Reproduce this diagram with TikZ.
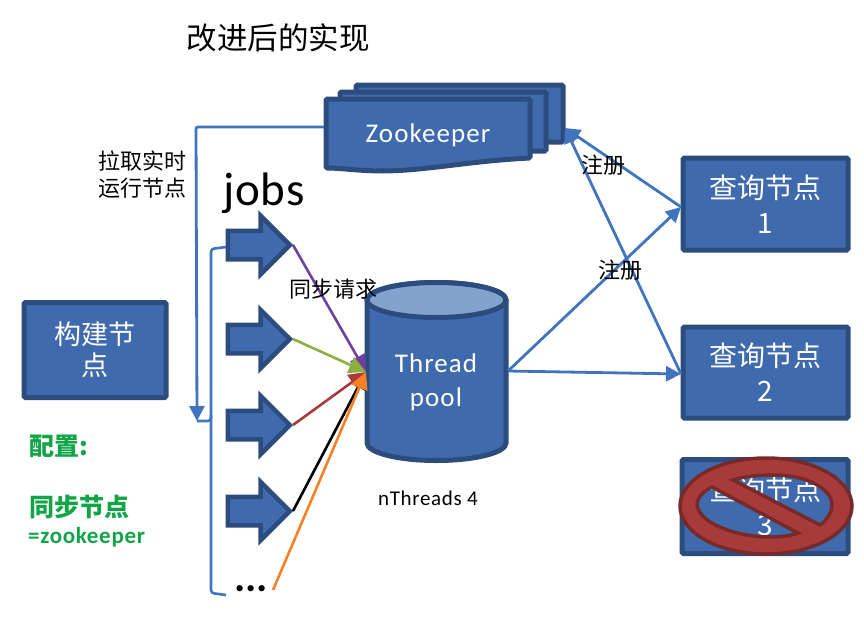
\documentclass[tikz,border=0pt]{standalone}
\usepackage{fontspec}
\setmainfont{Carlito}
\newfontfamily\cjk{Noto Sans CJK SC}
\usetikzlibrary{shapes.geometric,shapes.arrows,arrows.meta}
\definecolor{bfill}{HTML}{3F6BAE}
\definecolor{bdark}{HTML}{2C4C7E}
\definecolor{bline}{HTML}{4074BC}
\definecolor{ctop}{HTML}{83A3CE}
\definecolor{gtext}{HTML}{12A548}
\definecolor{rfill}{HTML}{A93A3A}
\definecolor{rdark}{HTML}{782A2A}
\definecolor{fpurple}{HTML}{7040A0}
\definecolor{fgreen}{HTML}{8CB040}
\definecolor{forange}{HTML}{F58025}
\tikzset{
  x=1pt,y=-1pt,
  boxnode/.style={draw=bdark,fill=bfill,line width=5pt,rounded corners=1.5pt,inner sep=0pt,text=white,align=center,font=\cjk\fontsize{28}{35}\selectfont},
  jobarrow/.style={single arrow,draw=bdark,fill=bfill,line width=4.5pt,inner sep=0pt,text height=24pt,text depth=0pt,text width=1pt,minimum height=62pt,minimum width=54pt,single arrow head extend=15pt,single arrow head indent=0pt,anchor=tip},
  zh/.style={font=\cjk\fontsize{22}{27}\selectfont,text=black,inner sep=0pt,align=center},
  green/.style={font=\cjk\bfseries\fontsize{25}{30}\selectfont,text=gtext,inner sep=0pt},
  conn/.style={draw=bline,line width=2.8pt,-{Triangle[length=15pt,width=15pt]}},
  plainline/.style={draw=bline,line width=2.6pt},
  feed/.style={line width=2.6pt,-{Triangle[length=17pt,width=17pt]}},
  doc/.style={draw=bdark,fill=bfill,line width=5pt,rounded corners=1.5pt},
}
\begin{document}
\begin{tikzpicture}
\useasboundingbox (0,0) rectangle (864,618);
% title
\node[zh,font=\cjk\fontsize{30.5}{36}\selectfont] (title) at (278,38) {改进后的实现};
% query nodes
\node[boxnode,minimum width=165pt,minimum height=92pt] (q1) at (765.5,204) {查询节点\\1};
\node[boxnode,minimum width=165pt,minimum height=91pt] (q2) at (765.5,372.5) {查询节点\\2};
\node[boxnode,minimum width=166pt,minimum height=94pt] (q3) at (765,506.5) {查询节点\\3};
\node[boxnode,minimum width=142pt,minimum height=95pt,font=\cjk\fontsize{27}{31}\selectfont] (build) at (95,350) {构建节\\点};
% zookeeper multidocument
\path[doc] (356,85) -- (563,85) -- (563,142) -- (356,142) -- cycle;
\path[doc] (340,92) -- (546,92) -- (546,151) -- (340,151) -- cycle;
\path[doc] (326,99) -- (530,99) -- (530,158)
  .. controls (470,161) and (430,170) .. (385,171)
  .. controls (360,171) and (340,168) .. (326,168) -- cycle;
\node[inner sep=0pt,text=white,font=\fontsize{27}{30}\selectfont] (zk) at (428,135) {\addfontfeature{LetterSpace=4}Zookeeper};
\coordinate (zkleft) at (324,127);
\coordinate (zkright) at (565,128);
% cylinder
\node[minimum width=143pt,minimum height=182pt,inner sep=0pt] (pool) at (436.5,372) {};
\path[draw=bdark,fill=bfill,line width=5pt]
  (367,300) -- (367,443) arc[start angle=180,end angle=0,x radius=69.5,y radius=17.5] -- (506,300)
  arc[start angle=0,end angle=-180,x radius=69.5,y radius=17.5] -- cycle;
\path[draw=bdark,fill=ctop,line width=5pt] (436.5,300) ellipse[x radius=69.5,y radius=17.5];
\node[inner sep=0pt,text=white,align=center,font=\fontsize{27}{34}\selectfont] (pooltext) at (436,382) {\addfontfeature{LetterSpace=4}Thread\\\addfontfeature{LetterSpace=4}pool};
\node[inner sep=0pt,font=\fontsize{21}{24}\selectfont] (nt) at (428,498) {\addfontfeature{LetterSpace=3}nThreads 4};
% jobs
\node[inner sep=0pt,font=\fontsize{47}{50}\selectfont] (jobs) at (264,193) {\addfontfeature{LetterSpace=2}jobs};
\node[jobarrow] (a1) at (293,245) {};
\node[jobarrow] (a2) at (293,339) {};
\node[jobarrow] (a3) at (293,425) {};
\node[jobarrow] (a4) at (293,511) {};
\node[inner sep=0pt,font=\bfseries\fontsize{42}{42}\selectfont] (dots) at (251,589) {...};
\coordinate (dotsend) at (273,590);
\coordinate (poolin) at (366,372);
% feeds
\draw[feed,color=black] (a4.tip) -- (poolin);
\draw[feed,color=rfill] (a3.tip) -- (poolin);
\draw[feed,color=fpurple] (a1.tip) -- (poolin);
\draw[feed,color=fgreen] (a2.tip) -- (poolin);
\draw[feed,color=forange] (dotsend) -- (poolin);
% brace
\coordinate (bt) at (226,247);
\coordinate (bb) at (226,595);
\coordinate (bm) at (197,421);
\draw[plainline,rounded corners=3pt] (bt) -- (211,249) -- (211,421) -- (bm);
\draw[plainline,rounded corners=3pt] (211,415) -- (211,593) -- (bb);
% connectors
\coordinate (bend) at (196,127);
\draw[conn,rounded corners=2pt] (zkleft) -- (bend) -- (bm);
\coordinate (poolout) at (508,371);
\coordinate (q1in) at (681,207);
\coordinate (q2in) at (681,374);
\draw[conn] (poolout) -- (q1in);
\draw[conn] (poolout) -- (q2in);
\draw[conn] (q1in) -- (zkright);
\draw[conn] (q2in) -- (zkright);
% labels
\node[zh] (pull) at (142,175) {拉取实时\\运行节点};
\node[zh] (reg1) at (603,165) {注册};
\node[zh] (reg2) at (620,270) {注册};
\node[zh] (syncreq) at (333,289) {同步请求};
\node[green,anchor=west] (cfg) at (29,446) {配置:};
\node[green,anchor=west] (syncn) at (29,507) {同步节点};
\node[green,anchor=west,font=\bfseries\fontsize{23}{26}\selectfont] (zkv) at (28,537) {\addfontfeature{LetterSpace=3}=zookeeper};
% no symbol
\path[draw=rdark,fill=rfill,line width=3.5pt,even odd rule]
  (766,506) ellipse [x radius=86,y radius=48]
  (712,487) .. controls (700,493) and (697,500) .. (697,505)
  .. controls (700,525) and (740,537) .. (770,537)
  .. controls (780,537) and (790,536) .. (798,533) -- cycle
  (733,480) .. controls (745,476) and (760,475) .. (777,475)
  .. controls (810,476) and (832,490) .. (832,505)
  .. controls (832,512) and (827,520) .. (820,525) -- cycle;
\end{tikzpicture}
\end{document}
